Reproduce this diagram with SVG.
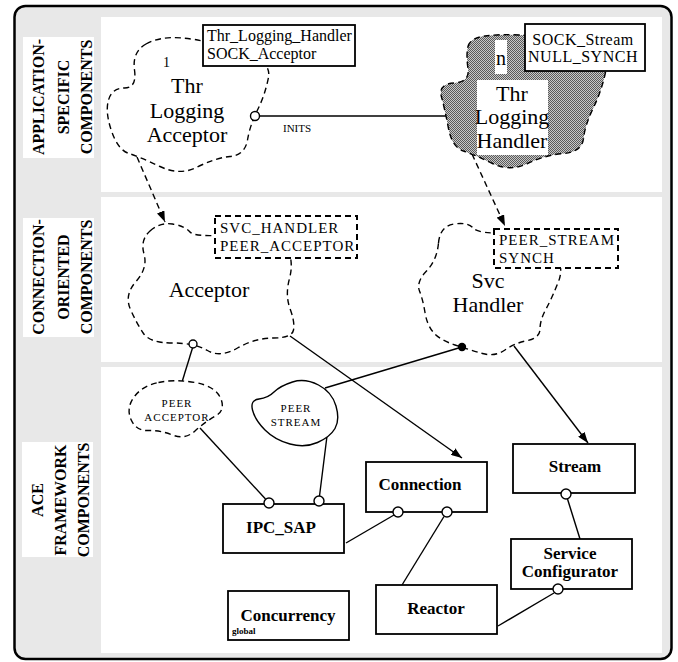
<svg xmlns="http://www.w3.org/2000/svg" width="678" height="662" viewBox="0 0 678 662">
<style>
.panel{fill:#ffffff}
.lbl{fill:#ffffff}
.side{font-weight:bold;font-size:16px;fill:#000}
.cloud{fill:#ffffff;stroke:#000;stroke-width:1.4;stroke-dasharray:6 4}
.csolid{fill:#ffffff;stroke:#000;stroke-width:1.4}
.big{font-size:22px;fill:#000;text-anchor:middle}
.reg{font-size:16px;fill:#000}
.caps{font-size:15px;letter-spacing:1px;fill:#000}
.small{font-size:11px;letter-spacing:1px;fill:#000;text-anchor:middle}
.box{fill:#ffffff;stroke:#000;stroke-width:1.8}
.dbox{fill:#ffffff;stroke:#000;stroke-width:2;stroke-dasharray:6 4}
.bold{font-weight:bold;font-size:17px;fill:#000;text-anchor:middle}
.ln{fill:none;stroke:#000;stroke-width:1.4}
.dl{fill:none;stroke:#000;stroke-width:1.4;stroke-dasharray:6 4}
.port{fill:#ffffff;stroke:#000;stroke-width:1.4}
</style>
<defs>
<pattern id="dither" width="2" height="2" patternUnits="userSpaceOnUse">
<rect width="2" height="2" fill="#c8c8c8"/>
<rect x="0" y="0" width="1" height="1" fill="#5a5a5a"/>
<rect x="1" y="1" width="1" height="1" fill="#5a5a5a"/>
</pattern>
<marker id="arr" markerWidth="11" markerHeight="8" refX="11" refY="4" orient="auto" markerUnits="userSpaceOnUse">
<path d="M0,0 L11,4 L0,8 Z" fill="#000"/>
</marker>
</defs>

<g id="frame">
<rect x="14.5" y="6" width="657" height="653" rx="11" fill="#e8e8e8" stroke="#000" stroke-width="2.5"/>
<rect class="panel" x="101" y="17" width="561" height="175"/>
<rect class="panel" x="101" y="197" width="561" height="165"/>
<rect class="panel" x="101" y="367" width="561" height="286"/>
</g>

<g font-family="Liberation Serif, 'Times New Roman', serif">
<g id="label-app">
<rect class="lbl" x="23" y="37" width="71" height="121"/>
<text class="side" transform="translate(0,97) rotate(-90)" text-anchor="middle"><tspan x="0" y="44">APPLICATION-</tspan><tspan x="0" y="69">SPECIFIC</tspan><tspan x="0" y="92">COMPONENTS</tspan></text>
</g>
<g id="label-conn">
<rect class="lbl" x="23" y="218" width="71" height="119"/>
<text class="side" transform="translate(0,277) rotate(-90)" text-anchor="middle"><tspan x="0" y="44">CONNECTION-</tspan><tspan x="0" y="69">ORIENTED</tspan><tspan x="0" y="92">COMPONENTS</tspan></text>
</g>
<g id="label-ace">
<rect class="lbl" x="22" y="442" width="71" height="115"/>
<text class="side" transform="translate(0,500) rotate(-90)" text-anchor="middle"><tspan x="0" y="43">ACE</tspan><tspan x="0" y="66">FRAMEWORK</tspan><tspan x="0" y="89">COMPONENTS</tspan></text>
</g>

<g id="connectors">
<line class="ln" x1="259.5" y1="116" x2="446" y2="116"/>
<path class="dl" d="M137,157 L165,222" marker-end="url(#arr)"/>
<path class="dl" d="M472,154 L505,226" marker-end="url(#arr)"/>
<line class="ln" x1="192.5" y1="348" x2="182" y2="382"/>
<path class="ln" d="M290,336 L462,458" marker-end="url(#arr)"/>
<path class="ln" d="M514,346 L588,443" marker-end="url(#arr)"/>
<line class="ln" x1="462" y1="347" x2="325" y2="388"/>
<line class="ln" x1="200" y1="428" x2="265.5" y2="499"/>
<line class="ln" x1="327" y1="436" x2="319.5" y2="496"/>
<line class="ln" x1="346" y1="543" x2="394" y2="515"/>
<line class="ln" x1="444" y1="516.5" x2="402" y2="585"/>
<line class="ln" x1="567.5" y1="499" x2="580" y2="539"/>
<line class="ln" x1="554" y1="593" x2="498" y2="626"/>
<text x="283" y="132" font-size="11" fill="#000">INITS</text>
</g>

<g id="thr-logging-acceptor">
<path class="cloud" d="M146,44 Q160,36 182.5,38 Q205,40 238.5,50 Q272,60 268.5,77.5 Q265,95 257.5,110 Q250,125 247.5,140 Q245,155 230,156.5 Q215,158 197.5,167 Q180,176 160,166.5 Q140,157 129,153.5 Q118,150 111.5,131 Q105,112 108.5,100 Q112,88 124.5,88 Q137,88 134.5,70 Q132,52 146,44 Z"/>
<text x="163" y="67" font-size="14" fill="#000">1</text>
<text class="big" x="187" y="93">Thr</text>
<text class="big" x="187" y="118">Logging</text>
<text class="big" x="187" y="142">Acceptor</text>
<rect class="box" x="203" y="25" width="152" height="41" stroke-width="1.5"/>
<text class="reg" x="207" y="41">Thr_Logging_Handler</text>
<text class="reg" x="207" y="59">SOCK_Acceptor</text>
<circle class="port" cx="255" cy="116" r="4.5"/>
</g>

<g id="thr-logging-handler">
<path d="M468,46.5 Q470,38 485,36 Q500,34 520,35 Q540,36 575,43 Q610,50 606,70 Q602,90 593.5,107.5 Q585,125 583.5,138.5 Q582,152 563.5,153.5 Q545,155 527.5,163.5 Q510,172 492.5,163.5 Q475,155 463.5,151 Q452,147 448.5,128.5 Q445,110 441.5,97 Q438,84 454,83 Q470,82 468,68.5 Q466,55 468,46.5 Z" fill="url(#dither)" stroke="#000" stroke-width="1.4" stroke-dasharray="6 4"/>
<rect x="495" y="40" width="12" height="34" fill="#fff"/>
<text x="501" y="65" font-size="20" fill="#000" text-anchor="middle">n</text>
<rect x="477" y="80" width="71" height="75" fill="#fff"/>
<text class="big" x="512" y="101">Thr</text>
<text class="big" x="512" y="124">Logging</text>
<text class="big" x="512" y="148">Handler</text>
<rect class="box" x="525" y="24" width="120" height="47" stroke-width="1.5"/>
<text class="reg" x="583" y="45" text-anchor="middle" letter-spacing="0.5">SOCK_Stream</text>
<text class="reg" x="583" y="62" text-anchor="middle" letter-spacing="0.5">NULL_SYNCH</text>
</g>

<g id="acceptor">
<path class="cloud" d="M150,231 Q160,222 172.5,224 Q185,226 190,232 Q195,238 237.5,234 Q280,230 287,246 Q294,262 289.5,278.5 Q285,295 290,308.5 Q295,322 293.5,330 Q292,338 273.5,338 Q255,338 237.5,348 Q220,358 207.5,350.5 Q195,343 172.5,343 Q150,343 143.5,333.5 Q137,324 130.5,309.5 Q124,295 136,281.5 Q148,268 144,254 Q140,240 150,231 Z"/>
<text class="big" x="209" y="297">Acceptor</text>
<rect class="dbox" x="215" y="216" width="142" height="42"/>
<text class="caps" x="220" y="233">SVC_HANDLER</text>
<text class="caps" x="220" y="251">PEER_ACCEPTOR</text>
<circle class="port" cx="193" cy="344" r="4"/>
</g>

<g id="svc-handler">
<path class="cloud" d="M438.5,243 Q440,226 454,224 Q468,222 473,228 Q478,234 509,233 Q540,232 552.5,248.5 Q565,265 558.5,281.5 Q552,298 546,309 Q540,320 540,329 Q540,338 527.5,340.5 Q515,343 505,350 Q495,357 482.5,353.5 Q470,350 455,345 Q440,340 433.5,332.5 Q427,325 425,312.5 Q423,300 419.5,291 Q416,282 426.5,271 Q437,260 438.5,243 Z"/>
<text class="big" x="488" y="288">Svc</text>
<text class="big" x="488" y="312">Handler</text>
<rect class="dbox" x="494" y="229" width="124" height="39"/>
<text class="caps" x="499" y="245">PEER_STREAM</text>
<text class="caps" x="499" y="263">SYNCH</text>
<circle cx="462" cy="347" r="4.2" fill="#000"/>
</g>

<g id="peer-acceptor">
<path class="cloud" d="M158.5,382.5 Q175,379 195,382.5 Q215,386 220.5,398 Q226,410 215.5,416 Q205,422 195,431 Q185,440 172.5,435 Q160,430 148,430.5 Q136,431 131,419.5 Q126,408 134,397 Q142,386 158.5,382.5 Z"/>
<text class="small" x="177" y="407">PEER</text>
<text class="small" x="177" y="421">ACCEPTOR</text>
</g>

<g id="peer-stream">
<path class="csolid" d="M274,392 Q280,386 292.5,382 Q305,378 318.5,385 Q332,392 336,406 Q340,420 335,428.5 Q330,437 317.5,442.5 Q305,448 290,444 Q275,440 265,430 Q255,420 252.5,410 Q250,400 259,399 Q268,398 274,392 Z"/>
<text class="small" x="296" y="412">PEER</text>
<text class="small" x="296" y="426">STREAM</text>
</g>

<g id="ipc-sap">
<rect class="box" x="223" y="504" width="121" height="49"/>
<text class="bold" x="281" y="533">IPC_SAP</text>
<circle class="port" cx="269" cy="503" r="5"/>
<circle class="port" cx="319" cy="501" r="5"/>
</g>

<g id="connection">
<rect class="box" x="366" y="462" width="121" height="50"/>
<text class="bold" x="420" y="490">Connection</text>
<circle class="port" cx="398" cy="512" r="5"/>
<circle class="port" cx="447" cy="512" r="5"/>
</g>

<g id="stream">
<rect class="box" x="513" y="444" width="122" height="49"/>
<text class="bold" x="575" y="472">Stream</text>
<circle class="port" cx="566" cy="494" r="5"/>
</g>

<g id="service-configurator">
<rect class="box" x="511" y="539" width="121" height="50"/>
<text class="bold" x="570" y="559">Service</text>
<text class="bold" x="570" y="577">Configurator</text>
<circle class="port" cx="558" cy="589" r="5"/>
</g>

<g id="reactor">
<rect class="box" x="376" y="585" width="121" height="49"/>
<text class="bold" x="436" y="614">Reactor</text>
</g>

<g id="concurrency">
<rect class="box" x="228" y="591" width="121" height="49"/>
<text class="bold" x="288" y="621">Concurrency</text>
<text x="232" y="634" font-weight="bold" font-size="9" fill="#000">global</text>
</g>
</g>
</svg>
